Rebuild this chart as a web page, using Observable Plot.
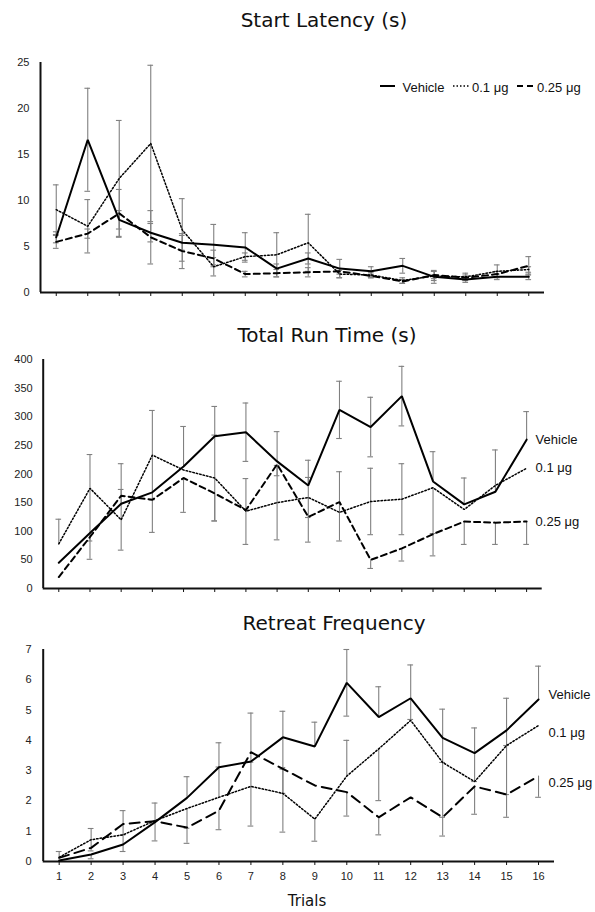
<!DOCTYPE html>
<html>
<head>
<meta charset="utf-8">
<script src="https://cdn.jsdelivr.net/npm/d3@7"></script>
<script src="https://cdn.jsdelivr.net/npm/@observablehq/plot@0.6"></script>
<style>
  body { margin: 0; background: #fff; }
  #root { position: relative; width: 595px; height: 912px; overflow: hidden; background: #fff; }
  .title { position: absolute; font-family: "DejaVu Sans", sans-serif; font-size: 20px; line-height: 1; color: #111; white-space: nowrap; transform: translateX(-50%); }
  .panel { position: absolute; left: 0; }
  .leg { position: absolute; font-family: "Liberation Sans", Arial, sans-serif; font-size: 13px; line-height: 1; color: #111; white-space: nowrap; }
  #legsvg { position: absolute; left: 0; top: 0; }
</style>
</head>
<body>
<div id="root"></div>
<script>
// ---------- data ----------
const trials = [1, 2, 3, 4, 5, 6, 7, 8, 9, 10, 11, 12, 13, 14, 15, 16];
const seriesNames = ["Vehicle", "0.1 μg", "0.25 μg"];

// Start Latency (s)
const latencyTicks = [0, 5, 10, 15, 20, 25];
const latVehicle    = [6.0, 16.6, 7.9, 6.5, 5.4, 5.2, 4.9, 2.6, 3.7, 2.6, 2.3, 2.9, 1.7, 1.4, 1.7, 1.7];
const latVehicleErr = [0.6, 5.6, 1.0, 1.0, 0.8, 2.2, 1.6, 0.5, 0.6, 1.0, 0.5, 0.8, 0.7, 0.3, 0.3, 0.3];
const latLow        = [9.0, 7.2, 12.4, 16.2, 6.8, 2.8, 3.9, 4.1, 5.4, 2.0, 1.9, 1.3, 1.8, 1.7, 2.3, 2.5];
const latLowErr     = [2.7, 2.9, 6.3, 8.5, 3.4, 1.0, 0.4, 2.4, 3.1, 0.4, 0.3, 0.3, 0.5, 0.4, 0.7, 0.3];
const latHigh       = [5.5, 6.4, 8.6, 6.0, 4.5, 3.7, 2.0, 2.1, 2.2, 2.3, 1.8, 1.2, 1.9, 1.6, 2.0, 2.9];
const latHighErr    = [0.7, 0.5, 2.6, 2.9, 1.9, 0.9, 0.3, 0.4, 0.5, 0.3, 0.2, 0.2, 0.4, 0.3, 0.3, 1.0];

// Total Run Time (s)
const runTicks = [0, 50, 100, 150, 200, 250, 300, 350, 400];
const runVehicle     = [45, 97, 148, 168, 213, 266, 273, 222, 180, 312, 282, 336, 187, 147, 169, 260];
const runVehicleUp   = [0, 0, 70, 0, 70, 52, 51, 52, 44, 50, 52, 52, 52, 46, 73, 49];
const runVehicleDown = [0, 0, 0, 0, 0, 0, 51, 0, 0, 50, 52, 52, 0, 0, 0, 0];
const runLow         = [78, 175, 120, 233, 207, 193, 135, 150, 159, 133, 152, 156, 176, 138, 180, 210];
const runLowUp       = [43, 59, 53, 78, 0, 75, 57, 65, 35, 71, 58, 62, 0, 0, 0, 0];
const runLowDown     = [0, 92, 53, 78, 0, 75, 0, 65, 35, 50, 58, 62, 80, 0, 0, 0];
const runHigh        = [20, 90, 162, 155, 193, 166, 137, 217, 125, 151, 50, 70, 95, 117, 115, 117];
const runHighUp      = [0, 0, 0, 0, 0, 0, 0, 0, 0, 0, 0, 0, 0, 0, 0, 0];
const runHighDown    = [0, 39, 0, 57, 60, 48, 60, 20, 44, 0, 15, 22, 38, 40, 38, 40];

// Retreat Frequency
const retreatTicks = [0, 1, 2, 3, 4, 5, 6, 7];
const retVehicle     = [0.03, 0.23, 0.56, 1.3, 2.1, 3.11, 3.3, 4.1, 3.8, 5.9, 4.77, 5.39, 4.08, 3.58, 4.33, 5.35];
const retVehicleUp   = [0, 0, 0.32, 0.63, 0.7, 0.81, 1.6, 0.86, 0.8, 1.1, 1.0, 1.1, 0.95, 0.83, 1.06, 1.1];
const retVehicleDown = [0, 0.14, 0.23, 0.62, 0, 0, 0, 1.0, 0, 1.1, 0, 0.7, 0.81, 0.94, 0.5, 0];
const retLow         = [0.14, 0.72, 0.88, 1.35, 1.75, 2.12, 2.48, 2.25, 1.40, 2.82, 3.72, 4.66, 3.27, 2.64, 3.83, 4.49];
const retLowUp       = [0.19, 0.37, 0.8, 0, 0, 1.0, 0.8, 0.8, 0, 1.18, 0, 0, 0, 0, 0, 0];
const retLowDown     = [0, 0.37, 0, 0, 0.65, 0, 1.31, 1.28, 0.73, 0, 1.71, 0, 1.81, 0, 1.62, 0];
const retHigh        = [0.12, 0.45, 1.24, 1.33, 1.12, 1.68, 3.61, 3.06, 2.51, 2.29, 1.46, 2.12, 1.46, 2.48, 2.21, 2.82];
const retHighUp      = [0, 0, 0, 0, 0, 0, 0, 0, 0, 0, 0, 0, 0, 0, 0, 0];
const retHighDown    = [0, 0, 0, 0, 0.52, 0.63, 0, 0.81, 0, 0.79, 0.58, 0, 0.62, 0.92, 0.75, 0.7];

// ---------- helpers ----------
function rows(mean) { return trials.map((t, i) => ({ t, v: mean[i] })); }
function errRows(mean, up, down) {
  const out = [];
  trials.forEach((t, i) => {
    if (up && up[i] > 0) out.push({ t, y1: mean[i], y2: mean[i] + up[i] });
    if (down && down[i] > 0) out.push({ t, y1: mean[i], y2: mean[i] - down[i] });
  });
  return out;
}
function lineStyles(dash) {
  return [
    { stroke: "#000", strokeWidth: 2 },
    { stroke: "#000", strokeWidth: 1.5, strokeDasharray: "1.5,2" },
    { stroke: "#000", strokeWidth: 2, strokeDasharray: dash }
  ];
}
const CAP = 0.09;

function panel(cfg) {
  const errs = cfg.series.flatMap(s => errRows(s.mean, s.up, s.down));
  const styles = lineStyles(cfg.dash);
  const marks = [
    Plot.ruleX(errs, { x: "t", y1: "y1", y2: "y2", stroke: "#808080", strokeWidth: 1.1 }),
    Plot.ruleY(errs, { y: "y2", x1: d => d.t - CAP, x2: d => d.t + CAP, stroke: "#808080", strokeWidth: 1.1 }),
    Plot.ruleY([0], { stroke: "#111", strokeWidth: 2 }),
    Plot.ruleX([0.5], { stroke: "#111", strokeWidth: 2 }),
    Plot.axisY({ ticks: cfg.yTicks, tickSize: 0, tickPadding: cfg.yPad, fontSize: 11, fill: "#222",
                 tickFormat: d => String(d), label: null }),
    Plot.axisX({ ticks: trials, tickSize: 4, tickPadding: 7, fontSize: 11, fill: "#222", stroke: "#111", label: null,
                 tickFormat: cfg.showX ? d => String(d) : () => "" }),
    ...cfg.series.map((s, k) => Plot.line(rows(s.mean), { x: "t", y: "v", ...styles[k], strokeLinejoin: "miter" }))
  ];
  if (cfg.endLabels) {
    cfg.series.forEach((s, k) => {
      marks.push(Plot.text([{ t: 16, v: s.mean[15], name: seriesNames[k] }], {
        x: "t", y: "v", text: "name", textAnchor: "start", dx: cfg.endLabels.dx, dy: cfg.endLabels.dy[k],
        fontSize: 13, fill: "#111"
      }));
    });
  }
  const svg = Plot.plot({
    width: 595,
    height: cfg.height,
    marginTop: cfg.mt, marginBottom: cfg.mb, marginLeft: cfg.ml, marginRight: cfg.mr,
    x: { domain: [0.5, 16.5], axis: null, label: null },
    y: { domain: [0, cfg.yMax], axis: null, label: null },
    style: { fontFamily: "'Liberation Sans', Arial, sans-serif", fontSize: "11px", background: "transparent", overflow: "visible" },
    marks
  });
  svg.classList.add("panel");
  svg.style.top = cfg.top + "px";
  return svg;
}

// ---------- build ----------
const root = document.getElementById("root");

root.appendChild(panel({
  top: 0, height: 305, mt: 62, mb: 13, ml: 40, mr: 51, yMax: 25, yTicks: latencyTicks, yPad: 11, showX: false,
  dash: "6,4",
  series: [
    { mean: latVehicle, up: latVehicleErr, down: latVehicleErr },
    { mean: latLow, up: latLowErr, down: latLowErr },
    { mean: latHigh, up: latHighErr, down: latHighErr }
  ]
}));
root.appendChild(panel({
  top: 300, height: 305, mt: 59, mb: 17, ml: 42.7, mr: 53.3, yMax: 400, yTicks: runTicks, yPad: 10.5, showX: false,
  dash: "6,4",
  endLabels: { dx: 9, dy: [0, 0, 0] },
  series: [
    { mean: runVehicle, up: runVehicleUp, down: runVehicleDown },
    { mean: runLow, up: runLowUp, down: runLowDown },
    { mean: runHigh, up: runHighUp, down: runHighDown }
  ]
}));
root.appendChild(panel({
  top: 600, height: 312, mt: 49, mb: 51, ml: 42.7, mr: 41, yMax: 7, yTicks: retreatTicks, yPad: 11.5, showX: true,
  dash: "10,6",
  endLabels: { dx: 10, dy: [-5, 7, 7] },
  series: [
    { mean: retVehicle, up: retVehicleUp, down: retVehicleDown },
    { mean: retLow, up: retLowUp, down: retLowDown },
    { mean: retHigh, up: retHighUp, down: retHighDown }
  ]
}));

// titles
const titles = [
  { text: "Start Latency (s)", x: 324, top: 10 },
  { text: "Total Run Time (s)", x: 327, top: 325 },
  { text: "Retreat Frequency", x: 334, top: 613 }
];
titles.forEach(t => {
  const d = document.createElement("div");
  d.className = "title";
  d.textContent = t.text;
  d.style.left = t.x + "px";
  d.style.top = t.top + "px";
  root.appendChild(d);
});
const xl = document.createElement("div");
xl.className = "title";
xl.style.fontSize = "15px";
xl.textContent = "Trials";
xl.style.left = "307px";
xl.style.top = "894px";
root.appendChild(xl);

// legend (top panel)
const ns = "http://www.w3.org/2000/svg";
const lsvg = document.createElementNS(ns, "svg");
lsvg.setAttribute("id", "legsvg");
lsvg.setAttribute("width", 595);
lsvg.setAttribute("height", 120);
const legSamples = [[380, 395], [453, 470], [517, 535]];
const legText = [402.5, 472, 537];
legSamples.forEach((s, k) => {
  const l = document.createElementNS(ns, "line");
  l.setAttribute("x1", s[0]); l.setAttribute("x2", s[1]);
  l.setAttribute("y1", 86); l.setAttribute("y2", 86);
  l.setAttribute("stroke", "#000");
  l.setAttribute("stroke-width", k === 1 ? 1.5 : 2);
  if (k === 1) l.setAttribute("stroke-dasharray", "1.5,2");
  if (k === 2) l.setAttribute("stroke-dasharray", "6,4");
  lsvg.appendChild(l);
});
root.appendChild(lsvg);
seriesNames.forEach((n, k) => {
  const d = document.createElement("div");
  d.className = "leg";
  d.textContent = n;
  d.style.left = legText[k] + "px";
  d.style.top = "81px";
  root.appendChild(d);
});
</script>
</body>
</html>
